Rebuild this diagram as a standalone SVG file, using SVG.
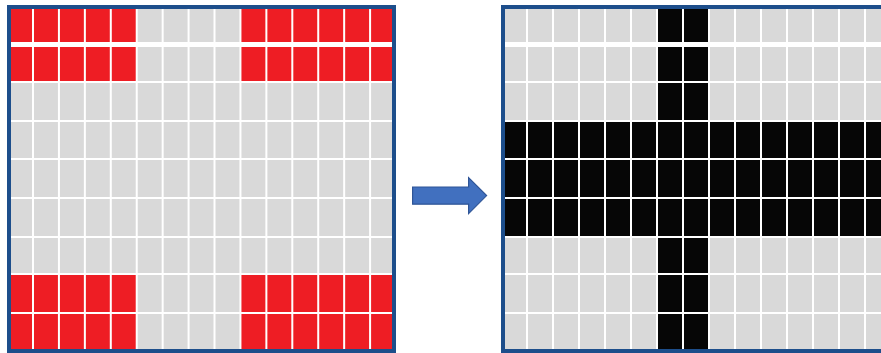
<svg xmlns="http://www.w3.org/2000/svg" width="881" height="353" viewBox="0 0 881 353">
<style>
.bg{fill:#fff}
.gray{fill:#D9D9D9}
.red{fill:#EE1D24}
.black{fill:#060606}
.gap{fill:#fff}
.frame{fill:none;stroke:#1D4E8B;stroke-width:4}
.arrow{fill:#4170BF;stroke:#2F5597;stroke-width:1.2}
</style>
<rect class="bg" x="0" y="0" width="881" height="353"/>
<g id="input-grid">
  <rect class="gray" x="9" y="7" width="385" height="344"/>
  <rect class="red" x="9" y="7" width="127.7" height="75"/>
  <rect class="red" x="241" y="7" width="153" height="75"/>
  <rect class="red" x="9" y="274" width="127.7" height="77"/>
  <rect class="red" x="241" y="274" width="153" height="77"/>
  <g class="gap">
    <rect x="32" y="7" width="2" height="344"/>
    <rect x="57.93" y="7" width="2" height="344"/>
    <rect x="83.86" y="7" width="2" height="344"/>
    <rect x="109.79" y="7" width="2" height="344"/>
    <rect x="135.72" y="7" width="2" height="344"/>
    <rect x="161.65" y="7" width="2" height="344"/>
    <rect x="187.58" y="7" width="2" height="344"/>
    <rect x="213.51" y="7" width="2" height="344"/>
    <rect x="239.44" y="7" width="2" height="344"/>
    <rect x="265.37" y="7" width="2" height="344"/>
    <rect x="291.3" y="7" width="2" height="344"/>
    <rect x="317.23" y="7" width="2" height="344"/>
    <rect x="343.16" y="7" width="2" height="344"/>
    <rect x="369.09" y="7" width="2" height="344"/>
    <rect x="9" y="42" width="385" height="5"/>
    <rect x="9" y="81" width="385" height="2"/>
    <rect x="9" y="120" width="385" height="2"/>
    <rect x="9" y="158" width="385" height="2"/>
    <rect x="9" y="197" width="385" height="2"/>
    <rect x="9" y="236" width="385" height="2"/>
    <rect x="9" y="273" width="385" height="2"/>
    <rect x="9" y="312" width="385" height="2"/>
  </g>
  <rect class="frame" x="9" y="7" width="385" height="344"/>
</g>
<g id="output-grid">
  <rect class="gray" x="503" y="7" width="400" height="344"/>
  <rect class="black" x="658" y="7" width="50" height="344"/>
  <rect class="black" x="503" y="122" width="400" height="114"/>
  <g class="gap">
    <rect x="526" y="7" width="2" height="344"/>
    <rect x="552" y="7" width="2" height="344"/>
    <rect x="578" y="7" width="2" height="344"/>
    <rect x="604" y="7" width="2" height="344"/>
    <rect x="630" y="7" width="2" height="344"/>
    <rect x="656" y="7" width="2" height="344"/>
    <rect x="682" y="7" width="2" height="344"/>
    <rect x="708" y="7" width="2" height="344"/>
    <rect x="734" y="7" width="2" height="344"/>
    <rect x="760" y="7" width="2" height="344"/>
    <rect x="786" y="7" width="2" height="344"/>
    <rect x="812" y="7" width="2" height="344"/>
    <rect x="838" y="7" width="2" height="344"/>
    <rect x="864" y="7" width="2" height="344"/>
    <rect x="503" y="42" width="400" height="5"/>
    <rect x="503" y="81" width="400" height="2"/>
    <rect x="503" y="120" width="400" height="2"/>
    <rect x="503" y="158" width="400" height="2"/>
    <rect x="503" y="197" width="400" height="2"/>
    <rect x="503" y="236" width="400" height="2"/>
    <rect x="503" y="273" width="400" height="2"/>
    <rect x="503" y="312" width="400" height="2"/>
  </g>
  <rect class="frame" x="503" y="7" width="400" height="344"/>
</g>
<g id="connectors">
  <polygon class="arrow" points="412.6,187 468.6,187 468.6,177.6 486.6,195.6 468.6,213.6 468.6,204.2 412.6,204.2"/>
</g>
</svg>
